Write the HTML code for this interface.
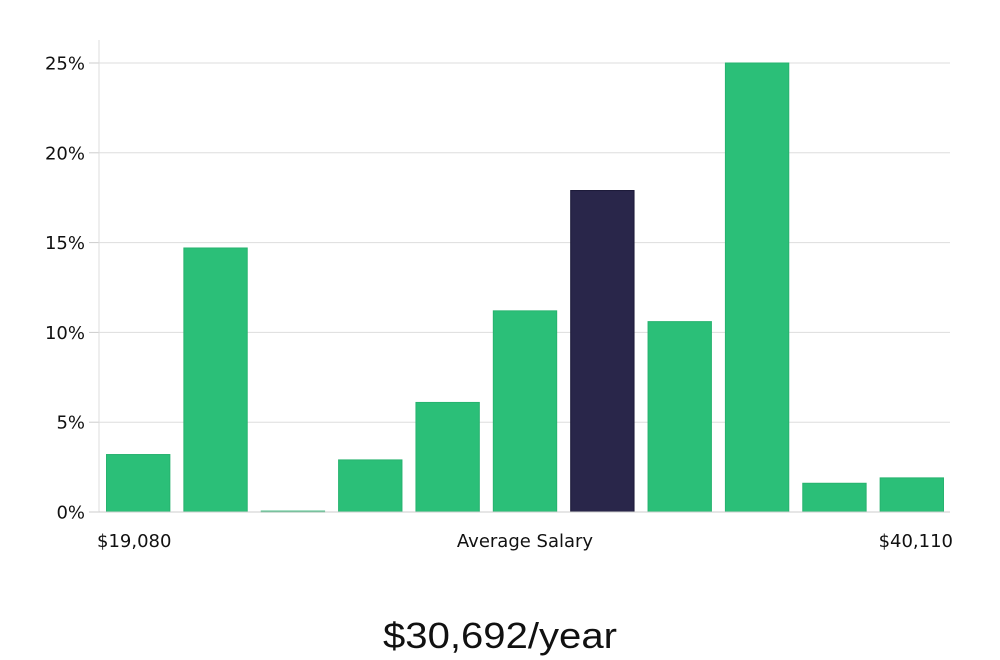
<!DOCTYPE html>
<html><head><meta charset="utf-8"><style>
body{margin:0;background:#fff;width:1000px;height:660px;overflow:hidden}
svg{display:block}
text{font-family:"DejaVu Sans","Liberation Sans",sans-serif;fill:#111}
</style></head><body>
<svg id="chart" width="1000" height="660" viewBox="0 0 1000 660" xmlns="http://www.w3.org/2000/svg">
<g id="grid"></g>
<g id="yaxis"></g>
<g id="bars"></g>
<line x1="99" y1="40" x2="99" y2="512" stroke="#ddd" stroke-width="1"/>
<line x1="99" y1="512" x2="950" y2="512" stroke="#ccc" stroke-width="1"/>
<text x="97" y="547" font-size="18">$19,080</text>
<text x="525" y="547" font-size="18" text-anchor="middle">Average Salary</text>
<text x="953" y="547" font-size="18" text-anchor="end">$40,110</text>
<text x="500" y="648" font-size="36" text-anchor="middle" style="font-family:'Liberation Sans',sans-serif" textLength="234" lengthAdjust="spacingAndGlyphs">$30,692/year</text>
</svg>
<script>
const categories = ["b1","b2","b3","b4","b5","b6","b7","b8","b9","b10","b11"];
const values = [3.2,14.7,0.05,2.9,6.1,11.2,17.9,10.6,25.0,1.6,1.9];
const highlight = [false,false,false,false,false,false,true,false,false,false,false];
const yTicks = [0,5,10,15,20,25];
const yTickLabels = ["0%","5%","10%","15%","20%","25%"];
const NS="http://www.w3.org/2000/svg";
const x0=99,x1=950,y0=512,yTop=63,yMaxVal=25;
function yScale(v){return y0-(v/yMaxVal)*(y0-yTop);}
const slot=(x1-x0)/categories.length;
function xScale(i){return x0+i*slot;}
const grid=document.getElementById('grid'),ya=document.getElementById('yaxis'),bars=document.getElementById('bars');
yTicks.forEach((t,i)=>{
  const y=yScale(t);
  if(t>0){const l=document.createElementNS(NS,'line');
  
  
  l.setAttribute('x1',x0);l.setAttribute('x2',x1);l.setAttribute('y1',y);l.setAttribute('y2',y);
  l.setAttribute('stroke','#ddd');grid.appendChild(l);}
  const tk=document.createElementNS(NS,'line');
  
  
  tk.setAttribute('x1',89);tk.setAttribute('x2',x0);tk.setAttribute('y1',y);tk.setAttribute('y2',y);
  tk.setAttribute('stroke','#ccc');ya.appendChild(tk);
  const tx=document.createElementNS(NS,'text');
  
  
  tx.setAttribute('x',85);tx.setAttribute('y',y+6.5);tx.setAttribute('text-anchor','end');tx.setAttribute('font-size','18');
  tx.textContent=yTickLabels[i];ya.appendChild(tx);
});
values.forEach((v,i)=>{
  const r=document.createElementNS(NS,'rect');
  
  
  const bx=xScale(i)+7.5,bw=slot-14,by=yScale(v);
  r.setAttribute('x',bx);r.setAttribute('y',by);r.setAttribute('width',bw);r.setAttribute('height',Math.max(1,y0-by));
  r.setAttribute('fill',highlight[i]?'#29264a':'#2bbf78');
  r.setAttribute('stroke',highlight[i]?'#1a1838':'#27b36f');
  bars.appendChild(r);
});
</script>
</body></html>
